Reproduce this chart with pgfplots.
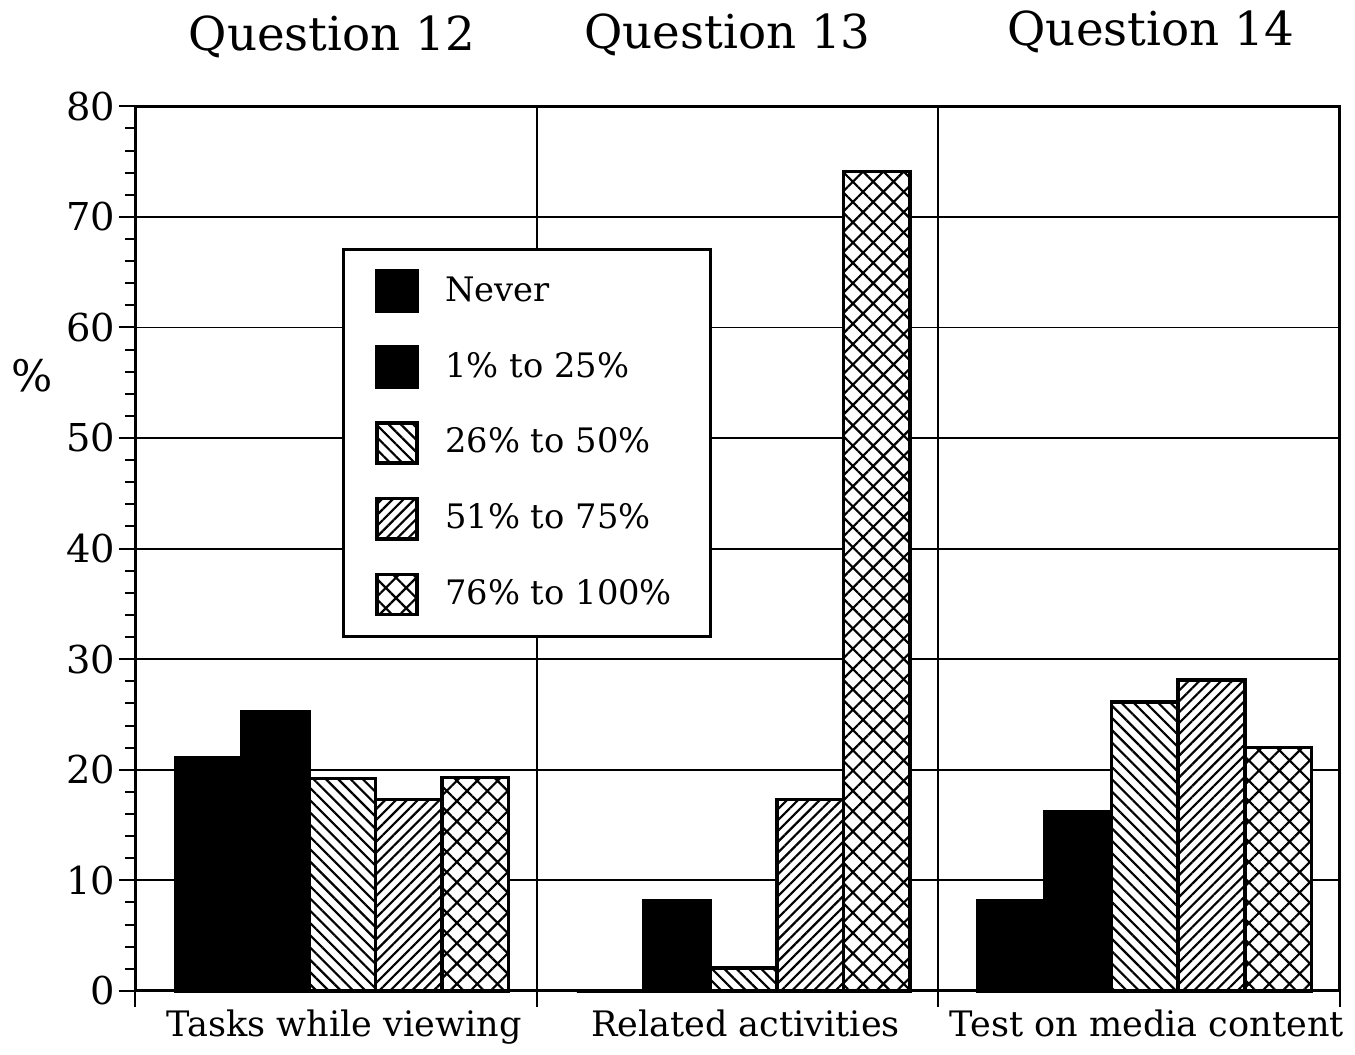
\documentclass[border=0pt]{standalone}
\usepackage{pgfplots}
\pgfplotsset{compat=1.18}
\usepackage{fontspec}
\setmainfont{DejaVu Serif}
\usetikzlibrary{patterns.meta}

\begin{document}
\begin{tikzpicture}
\begin{axis}[
  scale only axis, width=360.6pt, height=264.9pt,
  xmin=0, xmax=3, ymin=0, ymax=80,
  ytick={0,10,...,80}, minor y tick num=4,
  xtick={0,1,2,3}, xticklabels={},
  extra x ticks={0.52,1.52,2.52},
  extra x tick labels={Tasks while viewing, Related activities, Test on media content},
  extra x tick style={major tick length=0pt, grid=none,
    tick label style={font=\fontsize{10.5}{12}\selectfont, yshift=-2pt}},
  tick align=outside, major tick length=4.8pt, minor tick length=3pt,
  tick style={black, line width=0.6pt},
  xtick pos=bottom, ytick pos=left,
  grid=major, grid style={black, line width=0.55pt},
  axis line style={line width=0.9pt},
  /pgf/number format/assume math mode=true,
  yticklabel style={font=\fontsize{11.5}{13}\selectfont, inner sep=1pt},
  ylabel={\%},
  every axis y label/.style={at={(rel axis cs:-0.086,0.696)}, anchor=center, font=\fontsize{13}{15}\selectfont},
  clip=false,
  bw/.style={ybar, bar width=0.166, bar shift=0pt, draw=black, line width=1.1pt},
  legend image code/.code={\draw[#1, line width=1.1pt] (0pt,-6pt) rectangle (12pt,6pt);},
  legend cell align=left,
  legend style={at={(axis cs:0.514,67.2)}, anchor=north west, draw=black, line width=0.9pt,
    font=\fontsize{10.1}{12}\selectfont, inner xsep=9.5pt, inner ysep=6pt, row sep=9.6pt,
    nodes={inner sep=2pt},
    /tikz/every odd column/.append style={column sep=6pt}},
]
\addplot[bw, fill=black] coordinates {(0.183,21.1) (1.183,0) (2.183,8.1)};
\addlegendentry{Never}
\addplot[bw, fill=black] coordinates {(0.349,25.2) (1.349,8.1) (2.349,16.2)};
\addlegendentry{1\% to 25\%}
\addplot[bw, fill=white, postaction={pattern={Lines[angle=-45,distance=2.6pt,line width=0.65pt]}}]
  coordinates {(0.515,19.2) (1.515,2.1) (2.515,26.1)};
\addlegendentry{26\% to 50\%}
\addplot[bw, fill=white, postaction={pattern={Lines[angle=45,distance=2.3pt,line width=0.65pt]}}]
  coordinates {(0.681,17.3) (1.681,17.3) (2.681,28.1)};
\addlegendentry{51\% to 75\%}
\addplot[bw, fill=white, postaction={pattern={Hatch[angle=45,distance=4.3pt,line width=0.65pt]}}]
  coordinates {(0.847,19.3) (1.847,74.1) (2.847,22.0)};
\addlegendentry{76\% to 100\%}
\node[font=\fontsize{14}{16}\selectfont] at (axis cs:0.49,86.3) {Question 12};
\node[font=\fontsize{14}{16}\selectfont] at (axis cs:1.475,86.5) {Question 13};
\node[font=\fontsize{14}{16}\selectfont] at (axis cs:2.53,86.7) {Question 14};
\end{axis}
\end{tikzpicture}
\end{document}
